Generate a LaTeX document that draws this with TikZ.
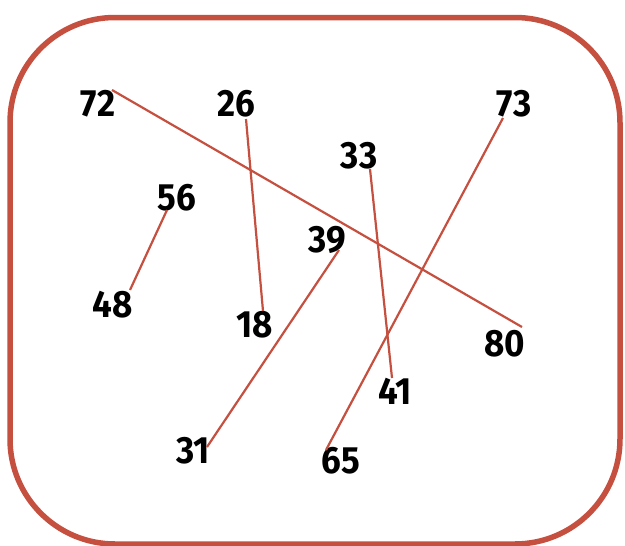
\documentclass[tikz,border=0pt]{standalone}
\usepackage{fontspec}
\newfontfamily\numfont[FakeStretch=0.92]{Fira Sans}
\definecolor{linered}{HTML}{C5503F}
\begin{document}
\begin{tikzpicture}[x=1pt,y=-1pt,
  num/.style={font=\numfont\bfseries\fontsize{38}{40}\selectfont, inner sep=0pt, text=black},
  link/.style={draw=linered, line width=2.2pt}]
\useasboundingbox (0,0) rectangle (625,546);
\draw[draw=linered, line width=5.5pt, rounded corners=105pt] (10,17.5) rectangle (620,544);
\node[num] (n72) at (98,104) {72};
\node[num] (n26) at (236,104) {26};
\node[num] (n73) at (514,104) {73};
\node[num] (n33) at (359,156) {33};
\node[num] (n56) at (177,198) {56};
\node[num] (n39) at (327,240) {39};
\node[num] (n48) at (113,305) {48};
\node[num] (n18) at (255,325) {18};
\node[num] (n80) at (505,344) {80};
\node[num] (n41) at (395,391) {41};
\node[num] (n31) at (193,451) {31};
\node[num] (n65) at (341,461) {65};
\coordinate (p72) at (112,90);
\coordinate (p80) at (522,327);
\coordinate (p26) at (246,119);
\coordinate (p18) at (263,311);
\coordinate (p56) at (167,210);
\coordinate (p48) at (130,290);
\coordinate (p33) at (370,169);
\coordinate (p41) at (392,378);
\coordinate (p39) at (339,250);
\coordinate (p31) at (207,447);
\coordinate (p73) at (503,118);
\coordinate (p65) at (326,450);
\draw[link] (p72) -- (p80);
\draw[link] (p26) -- (p18);
\draw[link] (p56) -- (p48);
\draw[link] (p33) -- (p41);
\draw[link] (p39) -- (p31);
\draw[link] (p73) -- (p65);
\end{tikzpicture}
\end{document}
